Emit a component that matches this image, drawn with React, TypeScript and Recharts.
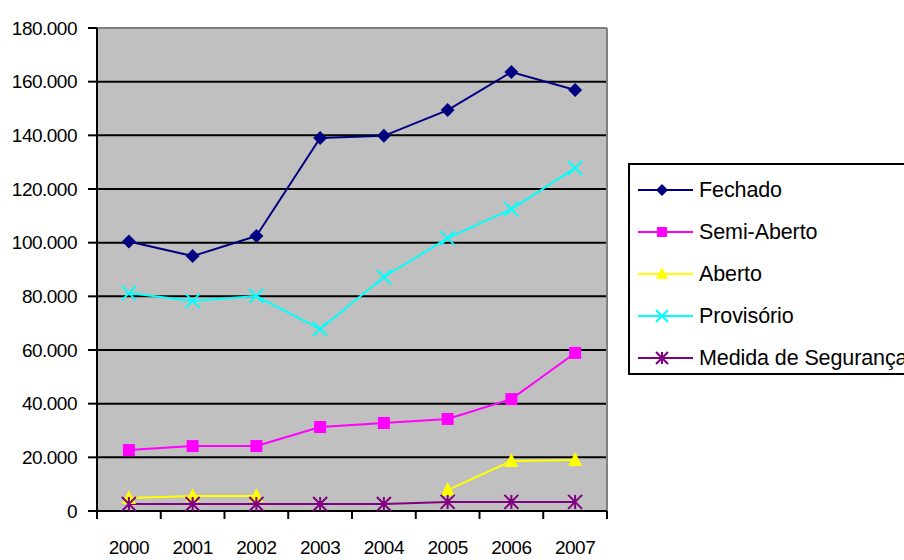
import { LineChart, Line, XAxis, YAxis, CartesianGrid, Legend } from "recharts";

const years = ["2000", "2001", "2002", "2003", "2004", "2005", "2006", "2007"];
const fechado = [100400, 95000, 102500, 139000, 139800, 149400, 163600, 156900];
const semiAberto = [22700, 24200, 24200, 31300, 32800, 34300, 41700, 58900];
const aberto = [4800, 5600, 5600, null, null, 7800, 18600, 19000];
const provisorio = [81200, 78300, 80100, 67800, 87200, 101700, 112500, 127800];
const medidaSeguranca = [2600, 2600, 2600, 2600, 2600, 3400, 3400, 3400];
const yTicks = [0, 20000, 40000, 60000, 80000, 100000, 120000, 140000, 160000, 180000];

const series = [
    { key: "fechado", name: "Fechado", color: "#000080", shape: "diamond" },
    { key: "semiAberto", name: "Semi-Aberto", color: "#ff00ff", shape: "square" },
    { key: "aberto", name: "Aberto", color: "#ffff00", shape: "triangle" },
    { key: "provisorio", name: "Provisório", color: "#00ffff", shape: "x" },
    { key: "medida", name: "Medida de Segurança", color: "#800080", shape: "star" },
];

const data = years.map((year, i) => ({
    year,
    fechado: fechado[i],
    semiAberto: semiAberto[i],
    aberto: aberto[i],
    provisorio: provisorio[i],
    medida: medidaSeguranca[i],
}));

const FONT = "'Liberation Sans', Arial, sans-serif";

const fmt = (n: number) => String(n).replace(/\B(?=(\d{3})+(?!\d))/g, ".");

const Marker = ({ shape, cx, cy, color, s = 7 }: any) => {
    switch (shape) {
        case "diamond":
            return <polygon points={`${cx},${cy - s} ${cx + s},${cy} ${cx},${cy + s} ${cx - s},${cy}`} fill={color} />;
        case "square":
            return <rect x={cx - s + 1} y={cy - s + 1} width={2 * s - 2} height={2 * s - 2} fill={color} />;
        case "triangle":
            return <polygon points={`${cx},${cy - s - 1} ${cx + s},${cy + s - 1} ${cx - s},${cy + s - 1}`} fill={color} />;
        case "x":
            return (
                <path
                    d={`M${cx - s},${cy - s}L${cx + s},${cy + s}M${cx - s},${cy + s}L${cx + s},${cy - s}`}
                    stroke={color}
                    strokeWidth={2}
                />
            );
        default:
            return (
                <path
                    d={`M${cx - s},${cy - s}L${cx + s},${cy + s}M${cx - s},${cy + s}L${cx + s},${cy - s}M${cx},${cy - s}L${cx},${cy + s}`}
                    stroke={color}
                    strokeWidth={2}
                />
            );
    }
};

const makeDot = (shape: string, color: string) => (p: any) => {
    if (p.cx == null || p.cy == null || p.value == null) return <g key={p.index} />;
    return (
        <g key={p.index}>
            <Marker shape={shape} cx={p.cx} cy={p.cy} color={color} />
        </g>
    );
};

// category labels in the middle of each band, tick marks on the band edges
const YearTick = (props: any) => {
    const { x, y, payload, index, visibleTicksCount, width } = props;
    const bw = width / visibleTicksCount;
    const last = index === visibleTicksCount - 1;
    return (
        <g>
            <line x1={x - bw / 2} x2={x - bw / 2} y1={y} y2={y + 8} stroke="#000" strokeWidth={2} />
            {last && <line x1={x + bw / 2} x2={x + bw / 2} y1={y} y2={y + 8} stroke="#000" strokeWidth={2} />}
            <text x={x} y={y + 30} dy="0.71em" textAnchor="middle" fontSize={19} letterSpacing={-0.5} fontFamily={FONT} fill="#000">
                {payload.value}
            </text>
        </g>
    );
};

const LegendBox = () => (
    <div style={{ paddingTop: 4, fontFamily: FONT, fontSize: 21.5 }}>
        {series.map((s) => (
            <div key={s.key} style={{ display: "flex", alignItems: "center", height: 42 }}>
                <svg width={66} height={42} style={{ flex: "none" }}>
                    <line x1={8} x2={63} y1={21} y2={21} stroke={s.color} strokeWidth={2} />
                    <Marker shape={s.shape} cx={32} cy={21} color={s.color} s={6} />
                </svg>
                <span style={{ marginLeft: 3, whiteSpace: "nowrap", letterSpacing: -0.1 }}>{s.name}</span>
            </div>
        ))}
    </div>
);

export default function App() {
    return (
        <div style={{ position: "absolute", left: 0, top: 0, width: 904, height: 560, overflow: "hidden", background: "#fff" }}>
            <LineChart width={904} height={560} data={data} margin={{ top: 28, right: 297, left: 0, bottom: 0 }}>
                <CartesianGrid vertical={false} fill="#c0c0c0" fillOpacity={1} stroke="#000" strokeWidth={2} />
                <CartesianGrid
                    stroke="#808080"
                    strokeWidth={2}
                    horizontalCoordinatesGenerator={({ offset }: any) => [offset.top]}
                    verticalCoordinatesGenerator={({ offset }: any) => [offset.left + offset.width]}
                />
                <XAxis
                    dataKey="year"
                    scale="band"
                    height={49}
                    interval={0}
                    axisLine={{ stroke: "#000", strokeWidth: 2 }}
                    tickLine={false}
                    tickSize={0}
                    tickMargin={0}
                    tick={<YearTick />}
                />
                <YAxis
                    width={97}
                    domain={[0, 180000]}
                    ticks={yTicks}
                    interval={0}
                    tickFormatter={fmt}
                    tickSize={9}
                    tickMargin={11}
                    axisLine={{ stroke: "#000", strokeWidth: 2 }}
                    tickLine={{ stroke: "#000", strokeWidth: 2 }}
                    tick={{ fontSize: 19, fill: "#000", fontFamily: FONT, letterSpacing: -0.5 }}
                />
                {series.map((s) => (
                    <Line
                        key={s.key}
                        dataKey={s.key}
                        name={s.name}
                        stroke={s.color}
                        strokeWidth={2}
                        dot={makeDot(s.shape, s.color)}
                        activeDot={false}
                        connectNulls={false}
                        isAnimationActive={false}
                    />
                ))}
                <Legend
                    layout="vertical"
                    align="center"
                    verticalAlign="middle"
                    content={<LegendBox />}
                    wrapperStyle={{
                        left: 628,
                        top: 163,
                        width: 300,
                        height: 212,
                        border: "2px solid #000",
                        background: "#fff",
                        boxSizing: "border-box",
                    }}
                />
            </LineChart>
        </div>
    );
}
